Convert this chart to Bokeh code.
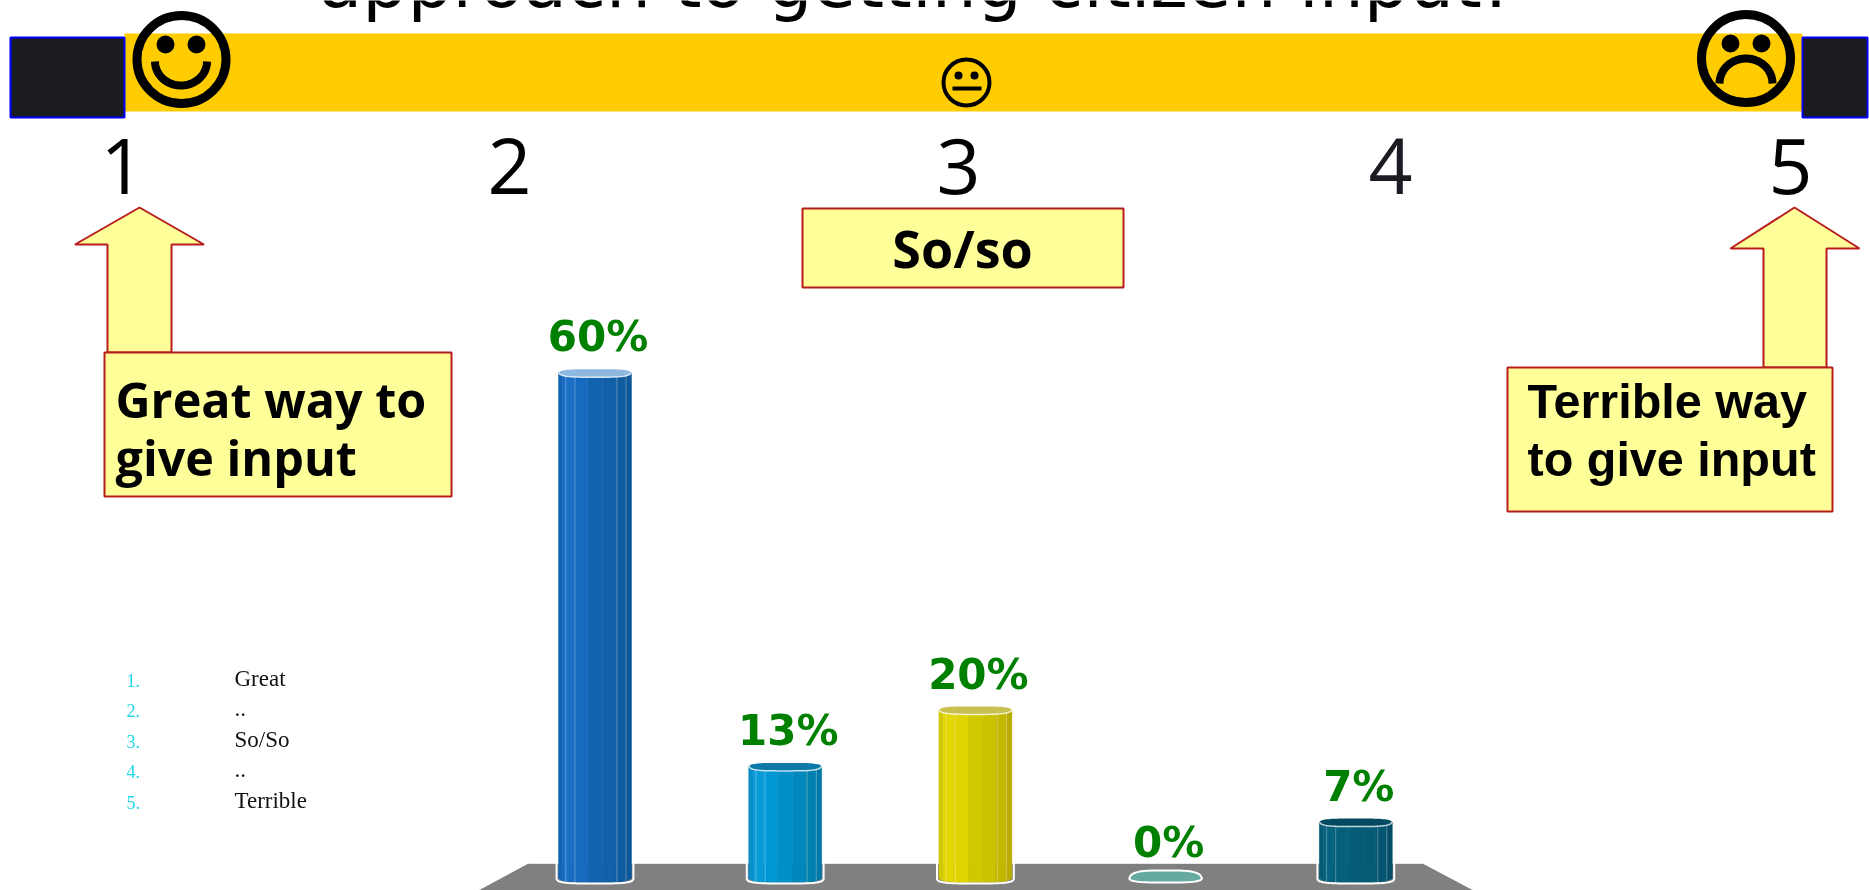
import numpy as np
from bokeh.plotting import figure
from bokeh.models import Range1d, ColumnDataSource
from bokeh.core.properties import value
from bokeh.embed import file_html
from bokeh.resources import INLINE

# ---- chart data ----
categories = [1, 2, 3, 4, 5]
percentages = [60, 13.3, 20, 0, 6.7]
bar_colors = [
    ["#1464b4", "#1a6ec4", "#166ac0", "#1364b0", "#1160a8", "#0f5ca0", "#0e5898"],
    ["#0a8ec8", "#0a9ad8", "#0098d4", "#0090c8", "#0088bc", "#0080b0", "#0078a8"],
    ["#d0c800", "#e2d800", "#e0d400", "#d2c800", "#ccc200", "#c2b800", "#b8ac00"],
    ["#66a9a0"] * 7,
    ["#055a74", "#07627e", "#06607c", "#055c78", "#055a74", "#045670", "#044e68"],
]
rim_colors = ["#8fb8e0", "#0b7aa8", "#c8c050", "#66a9a0", "#044a62"]
scale_labels = ["1", "2", "3", "4", "5"]
legend_numbers = ["1.", "2.", "3.", "4.", "5."]
legend_labels = ["Great", "..", "So/So", "..", "Terrible"]
title_line = "approach to getting citizen input!"

# ---- scales: one percent and one category step in screen pixels ----
W, H = 1869, 890
PX_PER_PCT = 8.43
PX_PER_CAT = 190.2
ZERO_PX = 878
FIRST_PX = 594.5
BASE_SHIFT = 0.4  # svg text sits this many em below the requested baseline

x_start = 1 - FIRST_PX / PX_PER_CAT
y_low = -(H - ZERO_PX) / PX_PER_PCT
y_high = ZERO_PX / PX_PER_PCT

p = figure(width=W, height=H, output_backend="svg", toolbar_location=None,
           x_range=Range1d(x_start, x_start + W / PX_PER_CAT),
           y_range=Range1d(y_low, y_high),
           min_border=0, outline_line_color=None, background_fill_color="white",
           styles={"position": "fixed", "left": "0px", "top": "0px"})
p.extra_x_ranges = {"px": Range1d(0, W)}
p.extra_y_ranges = {"px": Range1d(H, 0)}
p.xaxis.visible = False
p.yaxis.visible = False
p.grid.visible = False
PX = dict(x_range_name="px", y_range_name="px")


def ptext(x, y, s, size, font, color="black", style="normal", align="left"):
    p.text(x=[x], y=[y - BASE_SHIFT * size], text=[s], text_font=value(font),
           text_font_size=f"{size}px", text_font_style=style, text_color=color,
           text_align=align, text_baseline="alphabetic", **PX)


# ---- title fragment, band, end boxes ----
ptext(914, 10, title_line, 71, "DejaVu Sans", align="center")
p.quad(left=[124], right=[1802], top=[33], bottom=[111], fill_color="#ffcc00", line_color=None, **PX)
for l, r in [(10, 124), (1802, 1867)]:
    p.quad(left=[l], right=[r], top=[37], bottom=[117], fill_color="#1a1c22",
           line_color="#0000ff", line_width=2, **PX)

# ---- faces ----
for cx, cy in [(181, 59), (1745.5, 58)]:
    p.ellipse(x=[cx], y=[cy], width=[89], height=[88], fill_color=None,
              line_color="black", line_width=9, **PX)
p.ellipse(x=[165, 196, 1730, 1761], y=[44, 44, 43, 43], width=[18] * 4, height=[18] * 4,
          fill_color="black", line_color=None, **PX)
t = np.linspace(0, np.pi, 40)
p.line(180.5 + 26 * np.cos(t), 61 + 24 * np.sin(t), line_color="black", line_width=8,
       line_cap="butt", **PX)
p.line(1745.5 + 26.5 * np.cos(t), 83 - 25 * np.sin(t), line_color="black", line_width=8,
       line_cap="butt", **PX)
p.ellipse(x=[966], y=[82], width=[46], height=[46], fill_color=None,
          line_color="black", line_width=4, **PX)
p.ellipse(x=[958, 974], y=[75, 75], width=[8, 8], height=[8, 8],
          fill_color="black", line_color=None, **PX)
p.line([952, 981], [88, 88], line_color="black", line_width=4, line_cap="butt", **PX)

# ---- scale digits ----
for s, x, c in zip(scale_labels, [122, 509, 958, 1390, 1790],
                   ["black", "black", "black", "#1a1c22", "black"]):
    ptext(x, 196, s, 77, "Open Sans", color=c, align="center")

# ---- arrows and callouts ----
ARROW_FILL, EDGE = "#ffff99", "#b81c1c"
p.patch([139, 203.5, 171, 171, 107, 107, 74.5, 139], [207, 244, 244, 352, 352, 244, 244, 207],
        fill_color=ARROW_FILL, line_color=EDGE, line_width=2, **PX)
p.patch([1794, 1859, 1826, 1826, 1763, 1763, 1730, 1794], [207, 248, 248, 367, 367, 248, 248, 207],
        fill_color=ARROW_FILL, line_color=EDGE, line_width=2, **PX)
for l, r, tp, b in [(104, 451, 352, 496), (1507, 1832, 367, 511), (802, 1123, 208, 287)]:
    p.quad(left=[l], right=[r], top=[tp], bottom=[b], fill_color=ARROW_FILL,
           line_color=EDGE, line_width=2, **PX)
ptext(115, 418, "Great way to", 48.5, "Open Sans", style="bold")
ptext(115, 476, "give input", 48.5, "Open Sans", style="bold")
ptext(962, 268, "So/so", 52, "Open Sans", style="bold", align="center")
ptext(1527, 420, "Terrible way", 48.5, "Liberation Sans", style="bold")
ptext(1527, 478, "to give input", 48.5, "Liberation Sans", style="bold")

# ---- legend list ----
for i, (n, lab) in enumerate(zip(legend_numbers, legend_labels)):
    base = 687 + 30.5 * i
    ptext(126, base, n, 18, "Liberation Serif", color="#1fd8e6")
    ptext(234, base, lab, 23, "Liberation Serif", color="#111111")

# ---- floor ----
p.patch([528, 1422, 1473, 478], [863, 863, 890, 890], fill_color="#808080", line_color=None, **PX)
p.line([528, 1422], [863, 863], line_color="#e8e8e8", line_width=1, **PX)

# ---- faceted column bars, built from the data through the main scales ----
HALF = 36.5 / PX_PER_CAT
BOT = 4.0 / PX_PER_PCT
RIM_F = 4.5 / PX_PER_PCT
RIM_B = 3.5 / PX_PER_PCT
PUDDLE_B = 8.0 / PX_PER_PCT
stops = np.array([-1, -0.88, -0.6, -0.2, 0.2, 0.55, 0.85, 1.0])


def bulge(u):
    return np.sqrt(np.clip(1 - np.abs(u) ** 4, 0, 1))


for cat, v, cols, rim in zip(categories, percentages, bar_colors, rim_colors):
    uu = np.linspace(-1, 1, 41)
    if v == 0:
        # an empty column is only a flat disc on the floor
        cap_x = np.concatenate([cat + HALF * uu, cat + HALF * uu[::-1]])
        cap_y = np.concatenate([PUDDLE_B * bulge(uu), (-BOT * bulge(uu))[::-1]])
        p.patch(cap_x, cap_y, fill_color=rim, line_color="white", line_width=2)
        continue
    xs, ys, fills = [], [], []
    for k in range(len(stops) - 1):
        u0, u1 = stops[k], stops[k + 1]
        xs.append([cat + HALF * u0, cat + HALF * u1, cat + HALF * u1, cat + HALF * u0])
        ys.append([v - RIM_F * bulge(u0), v - RIM_F * bulge(u1),
                   -BOT * bulge(u1), -BOT * bulge(u0)])
        fills.append(cols[k])
    p.patches(xs, ys, fill_color=fills, line_color=fills, line_width=0.5)
    for u in (-0.8, -0.55, 0.6, 0.85):
        p.segment(x0=[cat + HALF * u], y0=[v - RIM_F * float(bulge(u))],
                  x1=[cat + HALF * u], y1=[-BOT * float(bulge(u))],
                  line_color="white", line_alpha=0.3, line_width=1)
    # top cap
    cap_x = np.concatenate([cat + HALF * uu, cat + HALF * uu[::-1]])
    cap_y = np.concatenate([v + RIM_B * bulge(uu), (v - RIM_F * bulge(uu))[::-1]])
    p.patch(cap_x, cap_y, fill_color=rim, line_color=None)
    # pale rim and white outline
    p.line(cat + HALF * uu, v - RIM_F * bulge(uu), line_color="white", line_alpha=0.75, line_width=1.5)
    sil_x = np.concatenate([[cat - HALF - 0.01], cat + (HALF + 0.01) * uu, [cat + HALF + 0.01]])
    sil_y = np.concatenate([[v], -BOT * bulge(uu) - 1 / PX_PER_PCT, [v]])
    p.line(sil_x, sil_y, line_color="white", line_width=2)

# ---- value labels ----
LABEL_SIZE = 42
src = ColumnDataSource(dict(x=categories, y=percentages,
                            label=[f"{round(v)}%" for v in percentages]))
p.text(x="x", y="y", text="label", source=src, x_offset=3,
       y_offset=-19 - BASE_SHIFT * LABEL_SIZE,
       text_font=value("DejaVu Sans"), text_font_style="bold", text_font_size=f"{LABEL_SIZE}px",
       text_color="#008000", text_align="center", text_baseline="alphabetic")

open("out.html", "w").write(file_html(p, INLINE))
